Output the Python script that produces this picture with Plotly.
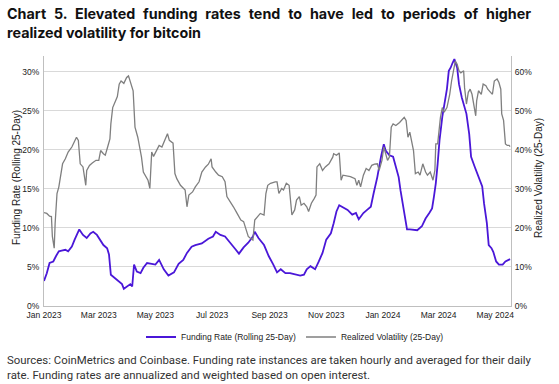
import pandas as pd
import plotly.graph_objects as go

START = "2023-01-01"

# Funding rate (rolling 25-day), % annualized; x = days since 2023-01-01
fund_days = [0, 3, 6, 10, 13, 16, 19, 23, 26, 30, 33, 38, 42, 46, 50, 53, 57, 60, 64, 68,
             70, 72, 76, 80, 84, 86, 90, 93, 95, 97, 100, 104, 107, 111, 116, 120, 124, 129, 134, 140,
             145, 150, 154, 159, 163, 170, 177, 182, 185, 190, 195, 201, 206, 210, 215, 220, 225, 227, 231, 237,
             242, 247, 251, 255, 260, 265, 271, 276, 280, 283, 287, 292, 296, 300, 304, 309, 312, 315, 318, 321,
             327, 332, 336, 339, 344, 348, 352, 355, 359, 363, 366, 368, 372, 376, 379, 382, 384, 387, 389, 391,
             394, 399, 402, 407, 411, 415, 418, 420, 422, 424, 426, 429, 431, 434, 436, 438, 440, 442, 445, 447,
             450, 453, 455, 458, 460, 464, 468, 472, 474, 477, 479, 482, 484, 487, 490, 494, 497, 501, 502]
fund_vals = [3.2, 4.2, 5.5, 5.7, 6.4, 7.0, 7.1, 7.2, 7.0, 7.6, 8.5, 9.8, 9.1, 8.7, 9.3, 9.5, 9.1, 8.5, 7.8, 7.4,
             6.6, 4.0, 3.6, 3.3, 2.8, 2.2, 2.5, 2.8, 2.5, 5.3, 4.4, 4.2, 4.9, 5.5, 5.4, 5.3, 5.9, 4.7, 3.9, 4.3,
             5.4, 5.9, 6.8, 7.6, 7.8, 8.0, 8.6, 8.9, 9.5, 9.1, 8.9, 8.1, 7.3, 6.7, 7.5, 8.1, 8.9, 9.5, 8.7, 7.8,
             6.4, 5.3, 4.3, 4.7, 4.2, 4.2, 4.0, 3.9, 4.0, 4.7, 5.1, 4.7, 5.7, 6.8, 8.5, 9.3, 10.6, 12.1, 12.9, 12.7,
             12.3, 11.7, 11.9, 11.1, 11.9, 12.3, 12.7, 14.4, 16.5, 19.1, 20.7, 19.9, 19.3, 19.1, 17.8, 16.5, 14.8, 12.7, 11.0, 9.8,
             9.8, 9.7, 9.7, 10.2, 11.2, 11.9, 12.5, 14.0, 15.7, 18.2, 21.2, 24.2, 25.8, 27.8, 30.1, 30.5, 31.1, 31.6, 30.5, 28.4,
             26.7, 25.2, 24.6, 22.0, 19.1, 17.8, 16.5, 15.3, 13.1, 10.6, 7.8, 7.4, 6.9, 5.7, 5.3, 5.3, 5.7, 6.0, 6.0]

# Realized volatility (25-day), %
vol_days = [0, 3, 6, 8, 9, 11, 12, 14, 16, 18, 20, 23, 26, 30, 33, 35, 37, 39, 42, 43,
            45, 46, 49, 52, 56, 59, 61, 64, 66, 69, 71, 72, 74, 77, 79, 81, 83, 86, 89, 91,
            93, 96, 98, 101, 103, 105, 107, 109, 112, 114, 116, 118, 122, 124, 127, 131, 133, 135, 139, 141,
            143, 147, 152, 154, 156, 160, 163, 167, 170, 174, 177, 180, 181, 185, 188, 192, 195, 197, 201, 204,
            208, 212, 215, 218, 220, 222, 225, 227, 230, 233, 237, 239, 241, 244, 249, 251, 253, 256, 258, 261,
            264, 266, 267, 270, 272, 275, 277, 280, 283, 285, 288, 291, 293, 294, 297, 300, 303, 307, 311, 312,
            315, 318, 320, 322, 327, 330, 335, 337, 339, 341, 344, 347, 350, 353, 356, 359, 361, 364, 366, 368,
            370, 372, 374, 376, 379, 383, 386, 388, 390, 392, 394, 396, 398, 400, 403, 405, 408, 411, 413, 416,
            419, 421, 422, 424, 427, 429, 431, 434, 437, 439, 441, 443, 445, 447, 449, 452, 453, 455, 457, 459,
            461, 463, 465, 466, 468, 471, 473, 476, 478, 481, 483, 485, 488, 490, 492, 493, 495, 497, 499, 501, 502]
vol_vals = [23.9, 23.7, 23.0, 22.9, 17.8, 14.8, 21.2, 28.8, 30.5, 33.0, 36.4, 37.7, 39.4, 40.7, 42.5, 43.2, 42.4, 36.4, 35.6, 33.5,
            30.9, 34.7, 36.0, 36.6, 37.3, 37.3, 39.8, 39.0, 38.6, 41.1, 42.8, 46.6, 50.8, 52.5, 53.6, 56.8, 57.6, 57.0, 58.5, 58.9,
            57.6, 55.1, 45.8, 43.2, 40.7, 38.1, 34.3, 33.5, 32.2, 30.1, 39.4, 38.3, 40.3, 41.1, 40.7, 43.2, 44.1, 42.4, 41.7, 33.9,
            32.6, 30.9, 29.7, 25.4, 28.4, 29.2, 30.5, 31.8, 34.3, 35.6, 36.3, 37.7, 35.6, 34.3, 33.5, 33.1, 31.8, 28.0, 26.7, 25.4,
            23.7, 22.0, 21.6, 19.5, 17.8, 17.4, 16.9, 22.0, 22.9, 23.7, 23.3, 28.8, 30.9, 31.4, 31.8, 31.8, 28.8, 30.1, 29.7, 31.4,
            30.9, 25.4, 23.3, 24.6, 27.1, 28.0, 25.8, 26.3, 25.4, 24.2, 26.3, 27.5, 28.4, 35.6, 36.4, 34.7, 35.6, 36.4, 38.1, 39.0,
            38.6, 39.2, 32.2, 33.5, 33.2, 33.1, 32.6, 30.9, 32.2, 30.5, 33.5, 35.2, 34.7, 36.0, 36.3, 36.4, 34.7, 37.3, 40.7, 39.0,
            37.3, 38.1, 45.8, 46.6, 46.2, 47.0, 47.9, 48.3, 47.5, 43.2, 44.5, 42.4, 39.8, 33.9, 34.3, 33.5, 36.4, 34.3, 33.5, 34.3,
            32.2, 34.7, 41.5, 41.5, 48.3, 50.8, 49.6, 50.8, 54.2, 57.6, 60.2, 62.7, 61.9, 60.2, 59.7, 60.2, 55.9, 51.7, 54.7, 55.5,
            54.2, 51.3, 48.7, 52.5, 55.1, 54.2, 56.8, 56.4, 55.5, 54.7, 54.2, 57.6, 58.1, 57.2, 55.5, 49.2, 47.5, 41.5, 41.1, 41.1, 40.8]

FUND_NAME = "Funding Rate (Rolling 25-Day)"
VOL_NAME = "Realized Volatility (25-Day)"
TITLE_L1 = "Chart 5. Elevated funding rates tend to have led to periods of higher"
TITLE_L2 = "realized volatility for bitcoin"
NOTE = ("Sources: CoinMetrics and Coinbase. Funding rate instances are taken hourly and averaged for their daily<br>"
        "rate. Funding rates are annualized and weighted based on open interest.")

# justify the first title line by widening the word gaps
GAP = " \u00a0\u200a"
title_text = GAP.join(TITLE_L1.split(" ")) + "<br>" + TITLE_L2

start = pd.Timestamp(START)
fund_x = [start + pd.Timedelta(days=d) for d in fund_days]
vol_x = [start + pd.Timedelta(days=d) for d in vol_days]

PURPLE = "#4a17d8"
GRAY = "#7f7f7f"
SANS = "Liberation Sans, Arial"
TXT = "#222222"

fig = go.Figure()
fig.add_trace(go.Scatter(x=fund_x, y=[v / 100 for v in fund_vals], name=FUND_NAME, mode="lines",
                         line=dict(color=PURPLE, width=1.8), yaxis="y"))
fig.add_trace(go.Scatter(x=vol_x, y=[v / 100 for v in vol_vals], name=VOL_NAME, mode="lines",
                         line=dict(color=GRAY, width=1.3), yaxis="y2"))

W, H = 559, 384
ML, MR, MT, MB = 44, 48, 56, 78
pw = W - ML - MR
ph = H - MT - MB

def px_x(x):
    return (x - ML) / pw

def px_y(y):
    return (H - MB - y) / ph

fig.update_layout(
    width=W, height=H,
    margin=dict(l=ML, r=MR, t=MT, b=MB, autoexpand=False),
    paper_bgcolor="white", plot_bgcolor="white",
    font=dict(family=SANS, size=8.5, color=TXT),
    xaxis=dict(type="date", range=[start, start + pd.Timedelta(days=503)],
               tick0=START, dtick="M2", tickformat="%b %Y", showgrid=False,
               showline=True, linecolor="#bfbfbf", linewidth=1, ticks="", ticklabelstandoff=1,
               tickfont=dict(family=SANS, size=8.5, color=TXT)),
    yaxis=dict(range=[0, 0.32], tickvals=[0, 0.05, 0.10, 0.15, 0.20, 0.25, 0.30],
               tickformat=".0%", showgrid=True, gridcolor="#d9d9d9", gridwidth=1,
               showline=True, linecolor="#bfbfbf", linewidth=1, zeroline=False, ticks="",
               ticklabelstandoff=2, tickfont=dict(family=SANS, size=8.5, color=TXT)),
    yaxis2=dict(range=[0, 0.64], tickvals=[0, 0.1, 0.2, 0.3, 0.4, 0.5, 0.6],
                tickformat=".0%", overlaying="y", side="right", showgrid=False,
                showline=True, linecolor="#bfbfbf", linewidth=1, zeroline=False, ticks="",
                ticklabelstandoff=1, tickfont=dict(family=SANS, size=8.5, color=TXT)),
    showlegend=True,
    legend=dict(orientation="h", x=px_x(141), xanchor="left", y=px_y(337), yanchor="middle",
                font=dict(family=SANS, size=8.5, color=TXT), bgcolor="rgba(0,0,0,0)",
                itemwidth=30, tracegroupgap=0),
)

fig.add_annotation(text=title_text, xref="paper", yref="paper", x=px_x(5), y=px_y(3),
                   xanchor="left", yanchor="top", align="left", showarrow=False,
                   font=dict(family="Inter, Roboto, Arial", size=14.3, color="#111111", weight="bold"))
fig.add_annotation(text=FUND_NAME, textangle=-90, xref="paper", yref="paper",
                   x=px_x(16), y=px_y(178), xanchor="center", yanchor="middle", showarrow=False,
                   font=dict(family=SANS, size=10, color=TXT))
fig.add_annotation(text=VOL_NAME, textangle=-90, xref="paper", yref="paper",
                   x=px_x(538), y=px_y(178), xanchor="center", yanchor="middle", showarrow=False,
                   font=dict(family=SANS, size=10, color=TXT))
fig.add_annotation(text=NOTE, xref="paper", yref="paper", x=px_x(5), y=px_y(351),
                   xanchor="left", yanchor="top", align="left", showarrow=False,
                   font=dict(family="Roboto, Inter, Arial", size=11.4, color="#333333"))

fig.write_html("out.html", config={"displayModeBar": False},
               post_script="document.body.style.margin='0';")
